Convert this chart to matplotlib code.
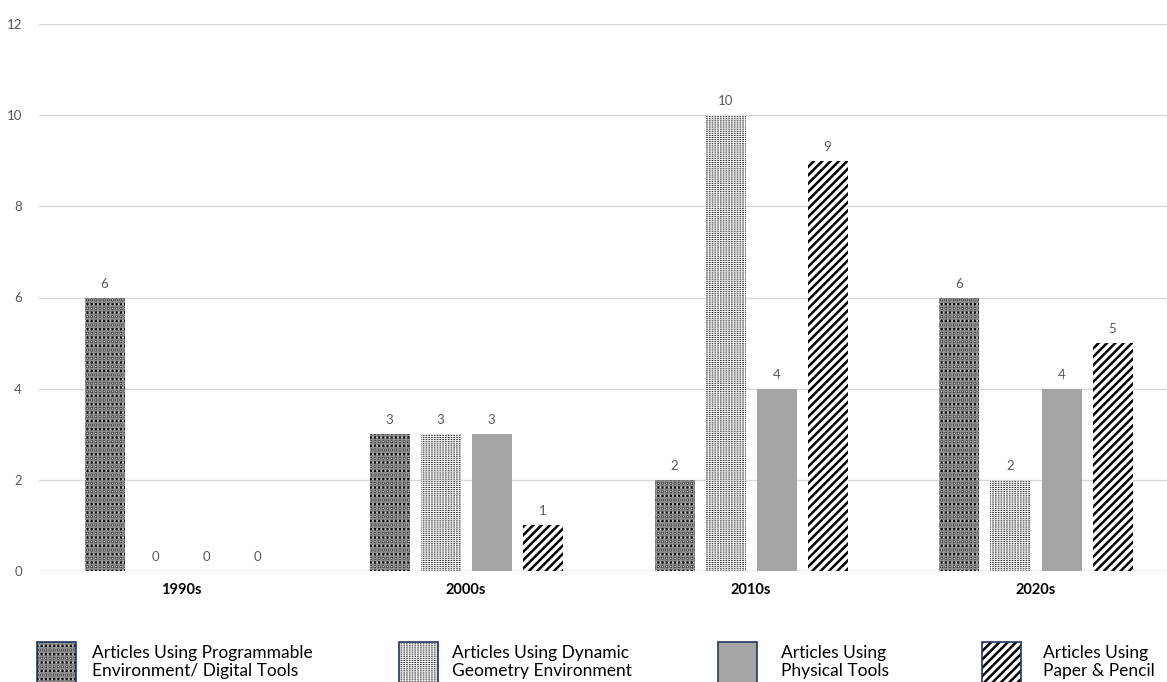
import matplotlib
matplotlib.use("Agg")
import matplotlib.pyplot as plt
import numpy as np
from matplotlib.patches import Rectangle

decades = ["1990s", "2000s", "2010s", "2020s"]
series_names = [
    "Articles Using Programmable\nEnvironment/ Digital Tools",
    "Articles Using Dynamic\nGeometry Environment",
    "Articles Using\nPhysical Tools",
    "Articles Using\nPaper & Pencil",
]
programmable = [6, 3, 2, 6]
dynamic_geometry = [0, 3, 10, 2]
physical = [0, 3, 4, 4]
paper_pencil = [0, 1, 9, 5]
y_ticks = [0, 2, 4, 6, 8, 10, 12]

series_values = [programmable, dynamic_geometry, physical, paper_pencil]

# fill layers per series: list of (facecolor, hatch, hatch colour, hatch linewidth)
styles = [
    [("#101010", "++++", "#8c8c8c", 1.3), ("none", "....", "#cfcfcf", 0.5)],
    [("white", "||||||", "#2a2a2a", 1.2), ("none", "--------", "#f2f2f2", 0.8)],
    [("#a5a5a5", None, "#a5a5a5", 1.0)],
    [("white", "////", "black", 1.8)],
]

FONT = "Lato"
W, H = 1167, 682
fig = plt.figure(figsize=(W / 100, H / 100), dpi=100)
left_px, cat_px = 38.5, 285.0
ax = fig.add_axes([left_px / W, (H - 571) / H, 4 * cat_px / W, (571 - 24) / H])

x = np.arange(len(decades))
bar_w = 40 / cat_px
step = 51 / cat_px


def set_hlw(artist, hlw):
    try:
        artist.set_hatch_linewidth(hlw)
    except AttributeError:
        pass


for i, (vals, layers) in enumerate(zip(series_values, styles)):
    off = (i - 1.5) * step
    bars = None
    for k, (fc, hatch, hc, hlw) in enumerate(layers):
        with plt.rc_context({"hatch.linewidth": hlw}):
            bc = ax.bar(x + off, vals, bar_w, color=fc, edgecolor=hc,
                        linewidth=0, hatch=hatch, zorder=3 + k * 0.1)
        for b in bc:
            set_hlw(b, hlw)
        if bars is None:
            bars = bc
    for b, v in zip(bars, vals):
        ax.annotate(str(v), (b.get_x() + b.get_width() / 2, v),
                    xytext=(0, 14), textcoords="offset pixels",
                    ha="center", va="center", fontsize=9.5,
                    color="#595959", family=FONT)

ax.set_xlim(-0.5, len(decades) - 0.5)
ax.set_ylim(0, 12)
ax.set_yticks(y_ticks)
ax.set_yticklabels([str(t) for t in y_ticks], fontsize=9.5, color="#595959",
                   family=FONT)
ax.set_xticks(x)
ax.set_xticklabels(decades, fontsize=10.5, fontweight="bold", color="black",
                   family=FONT)
ax.tick_params(axis="both", length=0)
ax.tick_params(axis="y", pad=12)
ax.tick_params(axis="x", pad=9)
ax.grid(axis="y", color="#d9d9d9", linewidth=1, zorder=0)
for s in ax.spines.values():
    s.set_visible(False)
ax.axhline(0, color="#d9d9d9", linewidth=1, zorder=2)

# legend along the bottom edge
sq_x = [37, 399, 718, 982]
tx_x = [92, 452, 781, 1043]
sq_y = (H - 682 - 2) / H
for i in range(4):
    for fc, hatch, hc, hlw in styles[i]:
        with plt.rc_context({"hatch.linewidth": hlw}):
            r = Rectangle((sq_x[i] / W, sq_y), 39 / W, 42 / H,
                          transform=fig.transFigure, facecolor=fc,
                          hatch=hatch, edgecolor=hc, linewidth=0)
        set_hlw(r, hlw)
        fig.add_artist(r)
    border = Rectangle((sq_x[i] / W, sq_y), 39 / W, 42 / H,
                       transform=fig.transFigure, facecolor="none",
                       edgecolor="#1f3864", linewidth=1.2)
    fig.add_artist(border)
    fig.text(tx_x[i] / W, (H - 662) / H, series_names[i], ha="left",
             va="center", fontsize=12.5, color="black", family=FONT,
             linespacing=1.15)

fig.savefig("out.png", dpi=100)
